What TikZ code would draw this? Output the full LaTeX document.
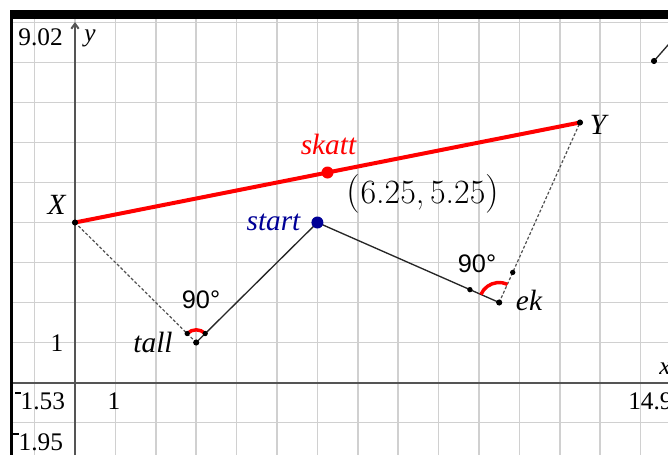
\documentclass[tikz,border=0pt]{standalone}
\usepackage{fontspec}
\newfontfamily\tnr{Liberation Serif}
\newfontfamily\lsans{Liberation Sans}
\usetikzlibrary{arrows.meta}
\definecolor{gridc}{HTML}{D0D0D0}
\definecolor{axisc}{HTML}{555555}
\definecolor{navyc}{RGB}{0,0,150}
\definecolor{dashc}{HTML}{505050}
\newcommand{\supminus}{\rule[0.62em]{0.22em}{0.06em}}
\begin{document}
\begin{tikzpicture}[x=0.75pt,y=-0.75pt,
  gridline/.style={draw=gridc,line width=1.3pt},
  axisline/.style={draw=axisc,line width=1.5pt},
  axlab/.style={font=\tnr\fontsize{19}{21}\selectfont,inner sep=0pt},
  axvar/.style={font=\tnr\itshape\fontsize{19}{21}\selectfont,inner sep=0pt},
  ptlab/.style={font=\tnr\itshape\fontsize{22}{24}\selectfont,inner sep=0pt},
  anglab/.style={font=\lsans\fontsize{19}{21}\selectfont,inner sep=0pt},
  bdot/.style={circle,fill=black,inner sep=0pt,minimum size=4.6pt},
  sdot/.style={circle,fill=black,inner sep=0pt,minimum size=4pt},
  bigdot/.style={circle,inner sep=0pt,minimum size=9pt},
  redline/.style={draw=red,line width=3pt},
  segline/.style={draw=black!85,line width=1pt},
  dashline/.style={draw=dashc,line width=0.9pt,dash pattern=on 2.2pt off 1.5pt},
  anglearc/.style={draw=red,line width=2.6pt},
  axtip/.style={-{Straight Barb[length=3.8pt,width=5.5pt]}},
]
\useasboundingbox (0,0) rectangle (668,455);
\begin{scope}
\clip (12,18) rectangle (668,455);
\foreach \k in {-1,...,14} \draw[gridline] ({75+40.4*\k},18) -- ({75+40.4*\k},455);
\foreach \k in {-1,...,9} \draw[gridline] (12,{382.5-40*\k}) -- (668,{382.5-40*\k});
% axes
\coordinate (ybot) at (75,455);
\coordinate (ytop) at (75,22);
\coordinate (xleft) at (12,382.5);
\coordinate (xright) at (676,382.5);
\draw[axisline,axtip] (ybot) -- (ytop);
\draw[axisline,axtip] (xleft) -- (xright);
% axis labels
\node[axlab] (ymaxlab) at (40.5,37.5) {9.02};
\node[axvar] (ylab) at (90,38) {y};
\node[axlab] (xminlab) at (40,401) {\supminus1.53};
\node[axlab] (xonelab) at (114,401) {1};
\node[axlab] (yminlab) at (38,442) {\supminus1.95};
\node[axlab,anchor=west] (xmaxlab) at (628,401) {14.9};
\node[axvar] (xlab) at (665,369) {x};
\node[axlab] (yonelab) at (57,343) {1};
% points
\coordinate (X) at (75,222.5);
\coordinate (Y) at (580,122.5);
\coordinate (S) at (327.5,172.5);
\coordinate (st) at (317.4,222.5);
\coordinate (ta) at (196.2,342.5);
\coordinate (ek) at (499.2,302.5);
\coordinate (P) at (654,61);
\coordinate (Pend) at (675,37);
% lines
\draw[dashline] (X) -- (ta);
\draw[dashline] (ek) -- (Y);
\draw[segline] (ta) -- (st) -- (ek);
\draw[segline] (P) -- (Pend);
\draw[redline] (X) -- (Y);
% angle marks
\draw[anglearc] (ta) ++(-135:12.7) arc[start angle=-135,end angle=-45,radius=12.7];
\draw[anglearc] (ek) ++(-156.3:20) arc[start angle=-156.3,end angle=-65.8,radius=20];
\path (ta) ++(-135:12.7) node[sdot] (ta1) {};
\path (ta) ++(-45:12.7) node[sdot] (ta2) {};
\path (ek) ++(-156.3:32) node[sdot] (ek1) {};
\path (ek) ++(-65.8:33) node[sdot] (ek2) {};
% dots
\node[bdot] (Xd) at (X) {};
\node[bdot] (Yd) at (Y) {};
\node[bdot] (tad) at (ta) {};
\node[bdot] (ekd) at (ek) {};
\node[bdot] (Pd) at (P) {};
\node[bigdot,fill=red] (Sd) at (S) {};
\node[bigdot,fill=navyc] (std) at (st) {};
% labels
\node[ptlab] (Xlab) at (56.7,205) {X};
\node[ptlab] (Ylab) at (598,125) {Y};
\node[ptlab,text=red] (Slab) at (328.5,144) {skatt};
\node[ptlab,text=navyc] (stlab) at (273.5,222.5) {start};
\node[ptlab] (talab) at (153,342) {tall};
\node[ptlab] (eklab) at (529,300) {ek};
\node[anglab] (taang) at (201,300) {90°};
\node[anglab] (ekang) at (477,264) {90°};
\node[inner sep=0pt] (coordlab) at (423,194) {\fontsize{25.5}{28}\selectfont{\fontsize{29}{29}\selectfont(}6.25,\,5.25{\fontsize{29}{29}\selectfont)}};
\end{scope}
% frame
\fill[black] (10,10) rectangle (668,18.5);
\fill[black] (10,10) rectangle (12.8,455);
\end{tikzpicture}
\end{document}
